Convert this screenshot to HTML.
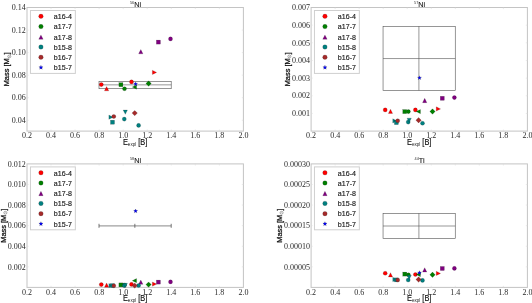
<!DOCTYPE html><html><head><meta charset="utf-8"><style>html,body{margin:0;padding:0;background:#fff}svg{display:block}.sf{font-family:"Liberation Serif",serif}.ss{font-family:"Liberation Sans",sans-serif}</style></head><body><svg width="532" height="303" viewBox="0 0 532 303">
<defs><filter id="bl" x="0" y="0" width="532" height="303" filterUnits="userSpaceOnUse"><feGaussianBlur stdDeviation="0.35"/></filter></defs>
<rect width="532" height="303" fill="#fff"/>
<g><rect x="27.0" y="7.5" width="216.40" height="123.60" fill="none" stroke="#c4c4c4" stroke-width="1"/>
<path d="M51.04 131.1v-1.6M51.04 7.5v1.6" stroke="#dcdcdc" stroke-width="0.6"/>
<path d="M75.09 131.1v-1.6M75.09 7.5v1.6" stroke="#dcdcdc" stroke-width="0.6"/>
<path d="M99.13 131.1v-1.6M99.13 7.5v1.6" stroke="#dcdcdc" stroke-width="0.6"/>
<path d="M123.18 131.1v-1.6M123.18 7.5v1.6" stroke="#dcdcdc" stroke-width="0.6"/>
<path d="M147.22 131.1v-1.6M147.22 7.5v1.6" stroke="#dcdcdc" stroke-width="0.6"/>
<path d="M171.27 131.1v-1.6M171.27 7.5v1.6" stroke="#dcdcdc" stroke-width="0.6"/>
<path d="M195.31 131.1v-1.6M195.31 7.5v1.6" stroke="#dcdcdc" stroke-width="0.6"/>
<path d="M219.36 131.1v-1.6M219.36 7.5v1.6" stroke="#dcdcdc" stroke-width="0.6"/>
<path d="M27.0 30.05h1.6M243.4 30.05h-1.6" stroke="#dcdcdc" stroke-width="0.6"/>
<path d="M27.0 52.60h1.6M243.4 52.60h-1.6" stroke="#dcdcdc" stroke-width="0.6"/>
<path d="M27.0 75.15h1.6M243.4 75.15h-1.6" stroke="#dcdcdc" stroke-width="0.6"/>
<path d="M27.0 97.70h1.6M243.4 97.70h-1.6" stroke="#dcdcdc" stroke-width="0.6"/>
<path d="M27.0 120.25h1.6M243.4 120.25h-1.6" stroke="#dcdcdc" stroke-width="0.6"/>
<rect x="30.45" y="10.50" width="44.9" height="62.9" fill="#fff" stroke="#cfcfcf" stroke-width="1"/>
<rect x="99.00" y="81.4" width="72.20" height="7.3" fill="none" stroke="#505050" stroke-width="0.6"/>
<path d="M99.00 84.85H171.20" stroke="#505050" stroke-width="0.6"/>
<rect x="311.1" y="7.5" width="216.30" height="123.60" fill="none" stroke="#c4c4c4" stroke-width="1"/>
<path d="M335.13 131.1v-1.6M335.13 7.5v1.6" stroke="#dcdcdc" stroke-width="0.6"/>
<path d="M359.17 131.1v-1.6M359.17 7.5v1.6" stroke="#dcdcdc" stroke-width="0.6"/>
<path d="M383.20 131.1v-1.6M383.20 7.5v1.6" stroke="#dcdcdc" stroke-width="0.6"/>
<path d="M407.23 131.1v-1.6M407.23 7.5v1.6" stroke="#dcdcdc" stroke-width="0.6"/>
<path d="M431.27 131.1v-1.6M431.27 7.5v1.6" stroke="#dcdcdc" stroke-width="0.6"/>
<path d="M455.30 131.1v-1.6M455.30 7.5v1.6" stroke="#dcdcdc" stroke-width="0.6"/>
<path d="M479.33 131.1v-1.6M479.33 7.5v1.6" stroke="#dcdcdc" stroke-width="0.6"/>
<path d="M503.37 131.1v-1.6M503.37 7.5v1.6" stroke="#dcdcdc" stroke-width="0.6"/>
<path d="M311.1 25.16h1.6M527.4 25.16h-1.6" stroke="#dcdcdc" stroke-width="0.6"/>
<path d="M311.1 42.81h1.6M527.4 42.81h-1.6" stroke="#dcdcdc" stroke-width="0.6"/>
<path d="M311.1 60.47h1.6M527.4 60.47h-1.6" stroke="#dcdcdc" stroke-width="0.6"/>
<path d="M311.1 78.13h1.6M527.4 78.13h-1.6" stroke="#dcdcdc" stroke-width="0.6"/>
<path d="M311.1 95.79h1.6M527.4 95.79h-1.6" stroke="#dcdcdc" stroke-width="0.6"/>
<path d="M311.1 113.44h1.6M527.4 113.44h-1.6" stroke="#dcdcdc" stroke-width="0.6"/>
<rect x="314.45" y="10.50" width="44.9" height="62.9" fill="#fff" stroke="#cfcfcf" stroke-width="1"/>
<rect x="383.05" y="26.3" width="72.20" height="64.1" fill="none" stroke="#505050" stroke-width="0.6"/>
<path d="M383.05 58.55H455.25M418.90 26.3V90.4" stroke="#505050" stroke-width="0.6"/>
<rect x="27.0" y="163.9" width="216.40" height="123.50" fill="none" stroke="#c4c4c4" stroke-width="1"/>
<path d="M51.04 287.4v-1.6M51.04 163.9v1.6" stroke="#dcdcdc" stroke-width="0.6"/>
<path d="M75.09 287.4v-1.6M75.09 163.9v1.6" stroke="#dcdcdc" stroke-width="0.6"/>
<path d="M99.13 287.4v-1.6M99.13 163.9v1.6" stroke="#dcdcdc" stroke-width="0.6"/>
<path d="M123.18 287.4v-1.6M123.18 163.9v1.6" stroke="#dcdcdc" stroke-width="0.6"/>
<path d="M147.22 287.4v-1.6M147.22 163.9v1.6" stroke="#dcdcdc" stroke-width="0.6"/>
<path d="M171.27 287.4v-1.6M171.27 163.9v1.6" stroke="#dcdcdc" stroke-width="0.6"/>
<path d="M195.31 287.4v-1.6M195.31 163.9v1.6" stroke="#dcdcdc" stroke-width="0.6"/>
<path d="M219.36 287.4v-1.6M219.36 163.9v1.6" stroke="#dcdcdc" stroke-width="0.6"/>
<path d="M27.0 184.48h1.6M243.4 184.48h-1.6" stroke="#dcdcdc" stroke-width="0.6"/>
<path d="M27.0 205.07h1.6M243.4 205.07h-1.6" stroke="#dcdcdc" stroke-width="0.6"/>
<path d="M27.0 225.65h1.6M243.4 225.65h-1.6" stroke="#dcdcdc" stroke-width="0.6"/>
<path d="M27.0 246.23h1.6M243.4 246.23h-1.6" stroke="#dcdcdc" stroke-width="0.6"/>
<path d="M27.0 266.82h1.6M243.4 266.82h-1.6" stroke="#dcdcdc" stroke-width="0.6"/>
<rect x="30.45" y="166.90" width="44.9" height="62.9" fill="#fff" stroke="#cfcfcf" stroke-width="1"/>
<path d="M99.00 225.8H171.20" stroke="#a0a0a0" stroke-width="1.3"/>
<path d="M99.00 223.8v4M171.20 223.8v4M134.85 223.8v4" stroke="#555" stroke-width="0.8"/>
<rect x="311.1" y="163.9" width="216.30" height="123.50" fill="none" stroke="#c4c4c4" stroke-width="1"/>
<path d="M335.13 287.4v-1.6M335.13 163.9v1.6" stroke="#dcdcdc" stroke-width="0.6"/>
<path d="M359.17 287.4v-1.6M359.17 163.9v1.6" stroke="#dcdcdc" stroke-width="0.6"/>
<path d="M383.20 287.4v-1.6M383.20 163.9v1.6" stroke="#dcdcdc" stroke-width="0.6"/>
<path d="M407.23 287.4v-1.6M407.23 163.9v1.6" stroke="#dcdcdc" stroke-width="0.6"/>
<path d="M431.27 287.4v-1.6M431.27 163.9v1.6" stroke="#dcdcdc" stroke-width="0.6"/>
<path d="M455.30 287.4v-1.6M455.30 163.9v1.6" stroke="#dcdcdc" stroke-width="0.6"/>
<path d="M479.33 287.4v-1.6M479.33 163.9v1.6" stroke="#dcdcdc" stroke-width="0.6"/>
<path d="M503.37 287.4v-1.6M503.37 163.9v1.6" stroke="#dcdcdc" stroke-width="0.6"/>
<path d="M311.1 184.48h1.6M527.4 184.48h-1.6" stroke="#dcdcdc" stroke-width="0.6"/>
<path d="M311.1 205.07h1.6M527.4 205.07h-1.6" stroke="#dcdcdc" stroke-width="0.6"/>
<path d="M311.1 225.65h1.6M527.4 225.65h-1.6" stroke="#dcdcdc" stroke-width="0.6"/>
<path d="M311.1 246.23h1.6M527.4 246.23h-1.6" stroke="#dcdcdc" stroke-width="0.6"/>
<path d="M311.1 266.82h1.6M527.4 266.82h-1.6" stroke="#dcdcdc" stroke-width="0.6"/>
<rect x="314.45" y="166.90" width="44.9" height="62.9" fill="#fff" stroke="#cfcfcf" stroke-width="1"/>
<rect x="383.05" y="213.4" width="72.20" height="25.2" fill="none" stroke="#505050" stroke-width="0.6"/>
<path d="M383.05 226.0H455.25M418.90 213.4V238.6" stroke="#505050" stroke-width="0.6"/></g>
<g filter="url(#bl)"><text x="27.00" y="138.40" class="sf" font-size="8" text-anchor="middle" fill="#2a2a2a">0.2</text>
<text x="51.04" y="138.40" class="sf" font-size="8" text-anchor="middle" fill="#2a2a2a">0.4</text>
<text x="75.09" y="138.40" class="sf" font-size="8" text-anchor="middle" fill="#2a2a2a">0.6</text>
<text x="99.13" y="138.40" class="sf" font-size="8" text-anchor="middle" fill="#2a2a2a">0.8</text>
<text x="123.18" y="138.40" class="sf" font-size="8" text-anchor="middle" fill="#2a2a2a">1.0</text>
<text x="147.22" y="138.40" class="sf" font-size="8" text-anchor="middle" fill="#2a2a2a">1.2</text>
<text x="171.27" y="138.40" class="sf" font-size="8" text-anchor="middle" fill="#2a2a2a">1.4</text>
<text x="195.31" y="138.40" class="sf" font-size="8" text-anchor="middle" fill="#2a2a2a">1.6</text>
<text x="219.36" y="138.40" class="sf" font-size="8" text-anchor="middle" fill="#2a2a2a">1.8</text>
<text x="243.40" y="138.40" class="sf" font-size="8" text-anchor="middle" fill="#2a2a2a">2.0</text>
<text x="25.80" y="10.20" class="sf" font-size="8" text-anchor="end" fill="#2a2a2a">0.14</text>
<text x="25.80" y="32.75" class="sf" font-size="8" text-anchor="end" fill="#2a2a2a">0.12</text>
<text x="25.80" y="55.30" class="sf" font-size="8" text-anchor="end" fill="#2a2a2a">0.10</text>
<text x="25.80" y="77.85" class="sf" font-size="8" text-anchor="end" fill="#2a2a2a">0.08</text>
<text x="25.80" y="100.40" class="sf" font-size="8" text-anchor="end" fill="#2a2a2a">0.06</text>
<text x="25.80" y="122.95" class="sf" font-size="8" text-anchor="end" fill="#2a2a2a">0.04</text>
<text x="135.50" y="6.50" class="ss" font-size="7.2" text-anchor="middle" fill="#111"><tspan font-size="3.8" dy="-2.9" fill="#333">56</tspan><tspan dy="2.9" stroke="#111" stroke-width="0.1">Ni</tspan></text>
<text transform="translate(122.90 144.50) scale(1,1.1)" class="ss" font-size="7.4" fill="#111"><tspan stroke="#111" stroke-width="0.15">E</tspan><tspan font-size="4.6" dy="1.2" fill="#222">expl</tspan><tspan dy="-1.2" stroke="#111" stroke-width="0.15"> [B]</tspan></text>
<g transform="translate(9.40 69.30) rotate(-90) scale(1,1.08)"><text x="-17.0" y="0" class="ss" font-size="7.4" fill="#111" stroke="#111" stroke-width="0.25">Mass [M</text><circle cx="12.9" cy="-0.1" r="1.4" fill="none" stroke="#333" stroke-width="0.4"/><circle cx="12.9" cy="-0.1" r="0.3" fill="#333"/><text x="14.9" y="0" class="ss" font-size="7.4" fill="#111" stroke="#111" stroke-width="0.25">]</text></g>
<circle cx="40.95" cy="16.35" r="2.25" fill="#ff0000" stroke="#000" stroke-opacity="0.45" stroke-width="0.35"/>
<text transform="translate(53.85 19.10) scale(1,1.1)" class="ss" font-size="7.1" fill="#1a1a1a" stroke="#1a1a1a" stroke-width="0.15">a16-4</text>
<circle cx="40.95" cy="26.57" r="2.25" fill="#008000" stroke="#000" stroke-opacity="0.45" stroke-width="0.35"/>
<text transform="translate(53.85 29.32) scale(1,1.1)" class="ss" font-size="7.1" fill="#1a1a1a" stroke="#1a1a1a" stroke-width="0.15">a17-7</text>
<path d="M40.95 34.90L43.14 39.28L38.76 39.28Z" fill="#800080" stroke="#000" stroke-opacity="0.45" stroke-width="0.35"/>
<text transform="translate(53.85 39.54) scale(1,1.1)" class="ss" font-size="7.1" fill="#1a1a1a" stroke="#1a1a1a" stroke-width="0.15">a17-8</text>
<circle cx="40.95" cy="47.01" r="2.25" fill="#008080" stroke="#000" stroke-opacity="0.45" stroke-width="0.35"/>
<text transform="translate(53.85 49.76) scale(1,1.1)" class="ss" font-size="7.1" fill="#1a1a1a" stroke="#1a1a1a" stroke-width="0.15">b15-8</text>
<circle cx="40.95" cy="57.23" r="2.25" fill="#a52a2a" stroke="#000" stroke-opacity="0.45" stroke-width="0.35"/>
<text transform="translate(53.85 59.98) scale(1,1.1)" class="ss" font-size="7.1" fill="#1a1a1a" stroke="#1a1a1a" stroke-width="0.15">b16-7</text>
<path d="M40.95 65.25L41.51 66.68L43.05 66.77L41.85 67.74L42.25 69.23L40.95 68.40L39.65 69.23L40.05 67.74L38.85 66.77L40.39 66.68Z" fill="#0000ff" stroke="#000" stroke-opacity="0.5" stroke-width="0.35"/>
<text transform="translate(53.85 70.20) scale(1,1.1)" class="ss" font-size="7.1" fill="#1a1a1a" stroke="#1a1a1a" stroke-width="0.15">b15-7</text>
<circle cx="101.30" cy="84.60" r="2.05" fill="#ff0000" stroke="#000" stroke-opacity="0.45" stroke-width="0.35"/>
<path d="M106.60 86.55L108.75 90.85L104.45 90.85Z" fill="#ff0000" stroke="#000" stroke-opacity="0.45" stroke-width="0.35"/>
<circle cx="131.50" cy="81.90" r="2.05" fill="#ff0000" stroke="#000" stroke-opacity="0.45" stroke-width="0.35"/>
<path d="M156.65 72.40L152.35 70.25L152.35 74.55Z" fill="#ff0000" stroke="#000" stroke-opacity="0.45" stroke-width="0.35"/>
<rect x="118.90" y="82.70" width="4.00" height="4.00" fill="#008000" stroke="#000" stroke-opacity="0.45" stroke-width="0.35"/>
<circle cx="124.50" cy="88.70" r="2.05" fill="#008000" stroke="#000" stroke-opacity="0.45" stroke-width="0.35"/>
<path d="M132.25 87.10L136.55 84.95L136.55 89.25Z" fill="#008000" stroke="#000" stroke-opacity="0.45" stroke-width="0.35"/>
<path d="M148.60 80.80L151.30 83.50L148.60 86.20L145.90 83.50Z" fill="#008000" stroke="#000" stroke-opacity="0.45" stroke-width="0.35"/>
<path d="M140.80 49.55L142.95 53.85L138.65 53.85Z" fill="#800080" stroke="#000" stroke-opacity="0.45" stroke-width="0.35"/>
<rect x="156.40" y="40.10" width="4.00" height="4.00" fill="#800080" stroke="#000" stroke-opacity="0.45" stroke-width="0.35"/>
<circle cx="170.50" cy="38.90" r="2.05" fill="#800080" stroke="#000" stroke-opacity="0.45" stroke-width="0.35"/>
<path d="M113.15 117.20L108.85 115.05L108.85 119.35Z" fill="#008080" stroke="#000" stroke-opacity="0.45" stroke-width="0.35"/>
<rect x="110.50" y="120.20" width="4.00" height="4.00" fill="#008080" stroke="#000" stroke-opacity="0.45" stroke-width="0.35"/>
<circle cx="124.30" cy="119.10" r="2.05" fill="#008080" stroke="#000" stroke-opacity="0.45" stroke-width="0.35"/>
<path d="M125.30 114.35L127.45 110.05L123.15 110.05Z" fill="#008080" stroke="#000" stroke-opacity="0.45" stroke-width="0.35"/>
<circle cx="138.60" cy="125.40" r="2.05" fill="#008080" stroke="#000" stroke-opacity="0.45" stroke-width="0.35"/>
<circle cx="113.80" cy="116.50" r="2.05" fill="#a52a2a" stroke="#000" stroke-opacity="0.45" stroke-width="0.35"/>
<path d="M134.70 110.40L137.40 113.10L134.70 115.80L132.00 113.10Z" fill="#a52a2a" stroke="#000" stroke-opacity="0.45" stroke-width="0.35"/>
<path d="M135.60 81.90L136.13 83.27L137.60 83.35L136.46 84.28L136.83 85.70L135.60 84.90L134.37 85.70L134.74 84.28L133.60 83.35L135.07 83.27Z" fill="#0000ff" stroke="#000" stroke-opacity="0.5" stroke-width="0.35"/>
<text x="311.10" y="138.40" class="sf" font-size="8" text-anchor="middle" fill="#2a2a2a">0.2</text>
<text x="335.13" y="138.40" class="sf" font-size="8" text-anchor="middle" fill="#2a2a2a">0.4</text>
<text x="359.17" y="138.40" class="sf" font-size="8" text-anchor="middle" fill="#2a2a2a">0.6</text>
<text x="383.20" y="138.40" class="sf" font-size="8" text-anchor="middle" fill="#2a2a2a">0.8</text>
<text x="407.23" y="138.40" class="sf" font-size="8" text-anchor="middle" fill="#2a2a2a">1.0</text>
<text x="431.27" y="138.40" class="sf" font-size="8" text-anchor="middle" fill="#2a2a2a">1.2</text>
<text x="455.30" y="138.40" class="sf" font-size="8" text-anchor="middle" fill="#2a2a2a">1.4</text>
<text x="479.33" y="138.40" class="sf" font-size="8" text-anchor="middle" fill="#2a2a2a">1.6</text>
<text x="503.37" y="138.40" class="sf" font-size="8" text-anchor="middle" fill="#2a2a2a">1.8</text>
<text x="527.40" y="138.40" class="sf" font-size="8" text-anchor="middle" fill="#2a2a2a">2.0</text>
<text x="309.90" y="10.20" class="sf" font-size="8" text-anchor="end" fill="#2a2a2a">0.007</text>
<text x="309.90" y="27.86" class="sf" font-size="8" text-anchor="end" fill="#2a2a2a">0.006</text>
<text x="309.90" y="45.51" class="sf" font-size="8" text-anchor="end" fill="#2a2a2a">0.005</text>
<text x="309.90" y="63.17" class="sf" font-size="8" text-anchor="end" fill="#2a2a2a">0.004</text>
<text x="309.90" y="80.83" class="sf" font-size="8" text-anchor="end" fill="#2a2a2a">0.003</text>
<text x="309.90" y="98.49" class="sf" font-size="8" text-anchor="end" fill="#2a2a2a">0.002</text>
<text x="309.90" y="116.14" class="sf" font-size="8" text-anchor="end" fill="#2a2a2a">0.001</text>
<text x="419.55" y="6.50" class="ss" font-size="7.2" text-anchor="middle" fill="#111"><tspan font-size="3.8" dy="-2.9" fill="#333">57</tspan><tspan dy="2.9" stroke="#111" stroke-width="0.1">Ni</tspan></text>
<text transform="translate(406.95 144.50) scale(1,1.1)" class="ss" font-size="7.4" fill="#111"><tspan stroke="#111" stroke-width="0.15">E</tspan><tspan font-size="4.6" dy="1.2" fill="#222">expl</tspan><tspan dy="-1.2" stroke="#111" stroke-width="0.15"> [B]</tspan></text>
<g transform="translate(289.50 69.30) rotate(-90) scale(1,1.08)"><text x="-17.0" y="0" class="ss" font-size="7.4" fill="#111" stroke="#111" stroke-width="0.25">Mass [M</text><circle cx="12.9" cy="-0.1" r="1.4" fill="none" stroke="#333" stroke-width="0.4"/><circle cx="12.9" cy="-0.1" r="0.3" fill="#333"/><text x="14.9" y="0" class="ss" font-size="7.4" fill="#111" stroke="#111" stroke-width="0.25">]</text></g>
<circle cx="324.95" cy="16.35" r="2.25" fill="#ff0000" stroke="#000" stroke-opacity="0.45" stroke-width="0.35"/>
<text transform="translate(337.85 19.10) scale(1,1.1)" class="ss" font-size="7.1" fill="#1a1a1a" stroke="#1a1a1a" stroke-width="0.15">a16-4</text>
<circle cx="324.95" cy="26.57" r="2.25" fill="#008000" stroke="#000" stroke-opacity="0.45" stroke-width="0.35"/>
<text transform="translate(337.85 29.32) scale(1,1.1)" class="ss" font-size="7.1" fill="#1a1a1a" stroke="#1a1a1a" stroke-width="0.15">a17-7</text>
<path d="M324.95 34.90L327.14 39.28L322.76 39.28Z" fill="#800080" stroke="#000" stroke-opacity="0.45" stroke-width="0.35"/>
<text transform="translate(337.85 39.54) scale(1,1.1)" class="ss" font-size="7.1" fill="#1a1a1a" stroke="#1a1a1a" stroke-width="0.15">a17-8</text>
<circle cx="324.95" cy="47.01" r="2.25" fill="#008080" stroke="#000" stroke-opacity="0.45" stroke-width="0.35"/>
<text transform="translate(337.85 49.76) scale(1,1.1)" class="ss" font-size="7.1" fill="#1a1a1a" stroke="#1a1a1a" stroke-width="0.15">b15-8</text>
<circle cx="324.95" cy="57.23" r="2.25" fill="#a52a2a" stroke="#000" stroke-opacity="0.45" stroke-width="0.35"/>
<text transform="translate(337.85 59.98) scale(1,1.1)" class="ss" font-size="7.1" fill="#1a1a1a" stroke="#1a1a1a" stroke-width="0.15">b16-7</text>
<path d="M324.95 65.25L325.51 66.68L327.05 66.77L325.85 67.74L326.25 69.23L324.95 68.40L323.65 69.23L324.05 67.74L322.85 66.77L324.39 66.68Z" fill="#0000ff" stroke="#000" stroke-opacity="0.5" stroke-width="0.35"/>
<text transform="translate(337.85 70.20) scale(1,1.1)" class="ss" font-size="7.1" fill="#1a1a1a" stroke="#1a1a1a" stroke-width="0.15">b15-7</text>
<circle cx="385.20" cy="109.90" r="2.05" fill="#ff0000" stroke="#000" stroke-opacity="0.45" stroke-width="0.35"/>
<path d="M390.50 109.15L392.65 113.45L388.35 113.45Z" fill="#ff0000" stroke="#000" stroke-opacity="0.45" stroke-width="0.35"/>
<circle cx="415.40" cy="109.90" r="2.05" fill="#ff0000" stroke="#000" stroke-opacity="0.45" stroke-width="0.35"/>
<path d="M440.55 108.90L436.25 106.75L436.25 111.05Z" fill="#ff0000" stroke="#000" stroke-opacity="0.45" stroke-width="0.35"/>
<rect x="402.80" y="109.60" width="4.00" height="4.00" fill="#008000" stroke="#000" stroke-opacity="0.45" stroke-width="0.35"/>
<circle cx="408.40" cy="111.60" r="2.05" fill="#008000" stroke="#000" stroke-opacity="0.45" stroke-width="0.35"/>
<path d="M416.15 111.60L420.45 109.45L420.45 113.75Z" fill="#008000" stroke="#000" stroke-opacity="0.45" stroke-width="0.35"/>
<path d="M432.50 108.80L435.20 111.50L432.50 114.20L429.80 111.50Z" fill="#008000" stroke="#000" stroke-opacity="0.45" stroke-width="0.35"/>
<path d="M424.70 98.35L426.85 102.65L422.55 102.65Z" fill="#800080" stroke="#000" stroke-opacity="0.45" stroke-width="0.35"/>
<rect x="440.30" y="96.30" width="4.00" height="4.00" fill="#800080" stroke="#000" stroke-opacity="0.45" stroke-width="0.35"/>
<circle cx="454.40" cy="97.60" r="2.05" fill="#800080" stroke="#000" stroke-opacity="0.45" stroke-width="0.35"/>
<path d="M397.05 120.90L392.75 118.75L392.75 123.05Z" fill="#008080" stroke="#000" stroke-opacity="0.45" stroke-width="0.35"/>
<rect x="394.40" y="120.60" width="4.00" height="4.00" fill="#008080" stroke="#000" stroke-opacity="0.45" stroke-width="0.35"/>
<circle cx="408.20" cy="122.10" r="2.05" fill="#008080" stroke="#000" stroke-opacity="0.45" stroke-width="0.35"/>
<path d="M409.20 122.45L411.35 118.15L407.05 118.15Z" fill="#008080" stroke="#000" stroke-opacity="0.45" stroke-width="0.35"/>
<circle cx="422.50" cy="123.30" r="2.05" fill="#008080" stroke="#000" stroke-opacity="0.45" stroke-width="0.35"/>
<circle cx="397.70" cy="120.70" r="2.05" fill="#a52a2a" stroke="#000" stroke-opacity="0.45" stroke-width="0.35"/>
<path d="M418.60 117.50L421.30 120.20L418.60 122.90L415.90 120.20Z" fill="#a52a2a" stroke="#000" stroke-opacity="0.45" stroke-width="0.35"/>
<path d="M419.50 75.80L420.03 77.17L421.50 77.25L420.36 78.18L420.73 79.60L419.50 78.80L418.27 79.60L418.64 78.18L417.50 77.25L418.97 77.17Z" fill="#0000ff" stroke="#000" stroke-opacity="0.5" stroke-width="0.35"/>
<text x="27.00" y="294.70" class="sf" font-size="8" text-anchor="middle" fill="#2a2a2a">0.2</text>
<text x="51.04" y="294.70" class="sf" font-size="8" text-anchor="middle" fill="#2a2a2a">0.4</text>
<text x="75.09" y="294.70" class="sf" font-size="8" text-anchor="middle" fill="#2a2a2a">0.6</text>
<text x="99.13" y="294.70" class="sf" font-size="8" text-anchor="middle" fill="#2a2a2a">0.8</text>
<text x="123.18" y="294.70" class="sf" font-size="8" text-anchor="middle" fill="#2a2a2a">1.0</text>
<text x="147.22" y="294.70" class="sf" font-size="8" text-anchor="middle" fill="#2a2a2a">1.2</text>
<text x="171.27" y="294.70" class="sf" font-size="8" text-anchor="middle" fill="#2a2a2a">1.4</text>
<text x="195.31" y="294.70" class="sf" font-size="8" text-anchor="middle" fill="#2a2a2a">1.6</text>
<text x="219.36" y="294.70" class="sf" font-size="8" text-anchor="middle" fill="#2a2a2a">1.8</text>
<text x="243.40" y="294.70" class="sf" font-size="8" text-anchor="middle" fill="#2a2a2a">2.0</text>
<text x="25.80" y="166.60" class="sf" font-size="8" text-anchor="end" fill="#2a2a2a">0.012</text>
<text x="25.80" y="187.18" class="sf" font-size="8" text-anchor="end" fill="#2a2a2a">0.010</text>
<text x="25.80" y="207.77" class="sf" font-size="8" text-anchor="end" fill="#2a2a2a">0.008</text>
<text x="25.80" y="228.35" class="sf" font-size="8" text-anchor="end" fill="#2a2a2a">0.006</text>
<text x="25.80" y="248.93" class="sf" font-size="8" text-anchor="end" fill="#2a2a2a">0.004</text>
<text x="25.80" y="269.52" class="sf" font-size="8" text-anchor="end" fill="#2a2a2a">0.002</text>
<text x="135.50" y="162.90" class="ss" font-size="7.2" text-anchor="middle" fill="#111"><tspan font-size="3.8" dy="-2.9" fill="#333">58</tspan><tspan dy="2.9" stroke="#111" stroke-width="0.1">Ni</tspan></text>
<text transform="translate(122.90 300.80) scale(1,1.1)" class="ss" font-size="7.4" fill="#111"><tspan stroke="#111" stroke-width="0.15">E</tspan><tspan font-size="4.6" dy="1.2" fill="#222">expl</tspan><tspan dy="-1.2" stroke="#111" stroke-width="0.15"> [B]</tspan></text>
<g transform="translate(5.50 225.65) rotate(-90) scale(1,1.08)"><text x="-17.0" y="0" class="ss" font-size="7.4" fill="#111" stroke="#111" stroke-width="0.25">Mass [M</text><circle cx="12.9" cy="-0.1" r="1.4" fill="none" stroke="#333" stroke-width="0.4"/><circle cx="12.9" cy="-0.1" r="0.3" fill="#333"/><text x="14.9" y="0" class="ss" font-size="7.4" fill="#111" stroke="#111" stroke-width="0.25">]</text></g>
<circle cx="40.95" cy="172.75" r="2.25" fill="#ff0000" stroke="#000" stroke-opacity="0.45" stroke-width="0.35"/>
<text transform="translate(53.85 175.50) scale(1,1.1)" class="ss" font-size="7.1" fill="#1a1a1a" stroke="#1a1a1a" stroke-width="0.15">a16-4</text>
<circle cx="40.95" cy="182.97" r="2.25" fill="#008000" stroke="#000" stroke-opacity="0.45" stroke-width="0.35"/>
<text transform="translate(53.85 185.72) scale(1,1.1)" class="ss" font-size="7.1" fill="#1a1a1a" stroke="#1a1a1a" stroke-width="0.15">a17-7</text>
<path d="M40.95 191.30L43.14 195.68L38.76 195.68Z" fill="#800080" stroke="#000" stroke-opacity="0.45" stroke-width="0.35"/>
<text transform="translate(53.85 195.94) scale(1,1.1)" class="ss" font-size="7.1" fill="#1a1a1a" stroke="#1a1a1a" stroke-width="0.15">a17-8</text>
<circle cx="40.95" cy="203.41" r="2.25" fill="#008080" stroke="#000" stroke-opacity="0.45" stroke-width="0.35"/>
<text transform="translate(53.85 206.16) scale(1,1.1)" class="ss" font-size="7.1" fill="#1a1a1a" stroke="#1a1a1a" stroke-width="0.15">b15-8</text>
<circle cx="40.95" cy="213.63" r="2.25" fill="#a52a2a" stroke="#000" stroke-opacity="0.45" stroke-width="0.35"/>
<text transform="translate(53.85 216.38) scale(1,1.1)" class="ss" font-size="7.1" fill="#1a1a1a" stroke="#1a1a1a" stroke-width="0.15">b16-7</text>
<path d="M40.95 221.64L41.51 223.08L43.05 223.17L41.85 224.14L42.25 225.63L40.95 224.80L39.65 225.63L40.05 224.14L38.85 223.17L40.39 223.08Z" fill="#0000ff" stroke="#000" stroke-opacity="0.5" stroke-width="0.35"/>
<text transform="translate(53.85 226.60) scale(1,1.1)" class="ss" font-size="7.1" fill="#1a1a1a" stroke="#1a1a1a" stroke-width="0.15">b15-7</text>
<circle cx="101.30" cy="284.60" r="2.05" fill="#ff0000" stroke="#000" stroke-opacity="0.45" stroke-width="0.35"/>
<path d="M106.60 282.95L108.75 287.25L104.45 287.25Z" fill="#ff0000" stroke="#000" stroke-opacity="0.45" stroke-width="0.35"/>
<circle cx="131.50" cy="284.40" r="2.05" fill="#ff0000" stroke="#000" stroke-opacity="0.45" stroke-width="0.35"/>
<path d="M156.65 284.10L152.35 281.95L152.35 286.25Z" fill="#ff0000" stroke="#000" stroke-opacity="0.45" stroke-width="0.35"/>
<rect x="118.90" y="282.90" width="4.00" height="4.00" fill="#008000" stroke="#000" stroke-opacity="0.45" stroke-width="0.35"/>
<circle cx="124.50" cy="285.00" r="2.05" fill="#008000" stroke="#000" stroke-opacity="0.45" stroke-width="0.35"/>
<path d="M132.25 280.70L136.55 278.55L136.55 282.85Z" fill="#008000" stroke="#000" stroke-opacity="0.45" stroke-width="0.35"/>
<path d="M148.60 281.90L151.30 284.60L148.60 287.30L145.90 284.60Z" fill="#008000" stroke="#000" stroke-opacity="0.45" stroke-width="0.35"/>
<path d="M140.80 280.05L142.95 284.35L138.65 284.35Z" fill="#800080" stroke="#000" stroke-opacity="0.45" stroke-width="0.35"/>
<rect x="156.40" y="280.10" width="4.00" height="4.00" fill="#800080" stroke="#000" stroke-opacity="0.45" stroke-width="0.35"/>
<circle cx="170.50" cy="281.90" r="2.05" fill="#800080" stroke="#000" stroke-opacity="0.45" stroke-width="0.35"/>
<path d="M113.15 285.60L108.85 283.45L108.85 287.75Z" fill="#008080" stroke="#000" stroke-opacity="0.45" stroke-width="0.35"/>
<rect x="110.50" y="283.60" width="4.00" height="4.00" fill="#008080" stroke="#000" stroke-opacity="0.45" stroke-width="0.35"/>
<circle cx="124.30" cy="285.60" r="2.05" fill="#008080" stroke="#000" stroke-opacity="0.45" stroke-width="0.35"/>
<path d="M125.30 287.55L127.45 283.25L123.15 283.25Z" fill="#008080" stroke="#000" stroke-opacity="0.45" stroke-width="0.35"/>
<circle cx="138.60" cy="285.50" r="2.05" fill="#008080" stroke="#000" stroke-opacity="0.45" stroke-width="0.35"/>
<circle cx="113.80" cy="285.80" r="2.05" fill="#a52a2a" stroke="#000" stroke-opacity="0.45" stroke-width="0.35"/>
<path d="M134.70 282.90L137.40 285.60L134.70 288.30L132.00 285.60Z" fill="#a52a2a" stroke="#000" stroke-opacity="0.45" stroke-width="0.35"/>
<path d="M135.60 209.00L136.13 210.37L137.60 210.45L136.46 211.38L136.83 212.80L135.60 212.00L134.37 212.80L134.74 211.38L133.60 210.45L135.07 210.37Z" fill="#0000ff" stroke="#000" stroke-opacity="0.5" stroke-width="0.35"/>
<text x="311.10" y="294.70" class="sf" font-size="8" text-anchor="middle" fill="#2a2a2a">0.2</text>
<text x="335.13" y="294.70" class="sf" font-size="8" text-anchor="middle" fill="#2a2a2a">0.4</text>
<text x="359.17" y="294.70" class="sf" font-size="8" text-anchor="middle" fill="#2a2a2a">0.6</text>
<text x="383.20" y="294.70" class="sf" font-size="8" text-anchor="middle" fill="#2a2a2a">0.8</text>
<text x="407.23" y="294.70" class="sf" font-size="8" text-anchor="middle" fill="#2a2a2a">1.0</text>
<text x="431.27" y="294.70" class="sf" font-size="8" text-anchor="middle" fill="#2a2a2a">1.2</text>
<text x="455.30" y="294.70" class="sf" font-size="8" text-anchor="middle" fill="#2a2a2a">1.4</text>
<text x="479.33" y="294.70" class="sf" font-size="8" text-anchor="middle" fill="#2a2a2a">1.6</text>
<text x="503.37" y="294.70" class="sf" font-size="8" text-anchor="middle" fill="#2a2a2a">1.8</text>
<text x="527.40" y="294.70" class="sf" font-size="8" text-anchor="middle" fill="#2a2a2a">2.0</text>
<text x="309.90" y="166.60" class="sf" font-size="8" text-anchor="end" fill="#2a2a2a">0.00030</text>
<text x="309.90" y="187.18" class="sf" font-size="8" text-anchor="end" fill="#2a2a2a">0.00025</text>
<text x="309.90" y="207.77" class="sf" font-size="8" text-anchor="end" fill="#2a2a2a">0.00020</text>
<text x="309.90" y="228.35" class="sf" font-size="8" text-anchor="end" fill="#2a2a2a">0.00015</text>
<text x="309.90" y="248.93" class="sf" font-size="8" text-anchor="end" fill="#2a2a2a">0.00010</text>
<text x="309.90" y="269.52" class="sf" font-size="8" text-anchor="end" fill="#2a2a2a">0.00005</text>
<text x="419.55" y="162.90" class="ss" font-size="7.2" text-anchor="middle" fill="#111"><tspan font-size="3.8" dy="-2.9" fill="#333">44</tspan><tspan dy="2.9" stroke="#111" stroke-width="0.1">Ti</tspan></text>
<text transform="translate(406.95 300.80) scale(1,1.1)" class="ss" font-size="7.4" fill="#111"><tspan stroke="#111" stroke-width="0.15">E</tspan><tspan font-size="4.6" dy="1.2" fill="#222">expl</tspan><tspan dy="-1.2" stroke="#111" stroke-width="0.15"> [B]</tspan></text>
<g transform="translate(281.70 225.65) rotate(-90) scale(1,1.08)"><text x="-17.0" y="0" class="ss" font-size="7.4" fill="#111" stroke="#111" stroke-width="0.25">Mass [M</text><circle cx="12.9" cy="-0.1" r="1.4" fill="none" stroke="#333" stroke-width="0.4"/><circle cx="12.9" cy="-0.1" r="0.3" fill="#333"/><text x="14.9" y="0" class="ss" font-size="7.4" fill="#111" stroke="#111" stroke-width="0.25">]</text></g>
<circle cx="324.95" cy="172.75" r="2.25" fill="#ff0000" stroke="#000" stroke-opacity="0.45" stroke-width="0.35"/>
<text transform="translate(337.85 175.50) scale(1,1.1)" class="ss" font-size="7.1" fill="#1a1a1a" stroke="#1a1a1a" stroke-width="0.15">a16-4</text>
<circle cx="324.95" cy="182.97" r="2.25" fill="#008000" stroke="#000" stroke-opacity="0.45" stroke-width="0.35"/>
<text transform="translate(337.85 185.72) scale(1,1.1)" class="ss" font-size="7.1" fill="#1a1a1a" stroke="#1a1a1a" stroke-width="0.15">a17-7</text>
<path d="M324.95 191.30L327.14 195.68L322.76 195.68Z" fill="#800080" stroke="#000" stroke-opacity="0.45" stroke-width="0.35"/>
<text transform="translate(337.85 195.94) scale(1,1.1)" class="ss" font-size="7.1" fill="#1a1a1a" stroke="#1a1a1a" stroke-width="0.15">a17-8</text>
<circle cx="324.95" cy="203.41" r="2.25" fill="#008080" stroke="#000" stroke-opacity="0.45" stroke-width="0.35"/>
<text transform="translate(337.85 206.16) scale(1,1.1)" class="ss" font-size="7.1" fill="#1a1a1a" stroke="#1a1a1a" stroke-width="0.15">b15-8</text>
<circle cx="324.95" cy="213.63" r="2.25" fill="#a52a2a" stroke="#000" stroke-opacity="0.45" stroke-width="0.35"/>
<text transform="translate(337.85 216.38) scale(1,1.1)" class="ss" font-size="7.1" fill="#1a1a1a" stroke="#1a1a1a" stroke-width="0.15">b16-7</text>
<path d="M324.95 221.64L325.51 223.08L327.05 223.17L325.85 224.14L326.25 225.63L324.95 224.80L323.65 225.63L324.05 224.14L322.85 223.17L324.39 223.08Z" fill="#0000ff" stroke="#000" stroke-opacity="0.5" stroke-width="0.35"/>
<text transform="translate(337.85 226.60) scale(1,1.1)" class="ss" font-size="7.1" fill="#1a1a1a" stroke="#1a1a1a" stroke-width="0.15">b15-7</text>
<circle cx="385.20" cy="273.30" r="2.05" fill="#ff0000" stroke="#000" stroke-opacity="0.45" stroke-width="0.35"/>
<path d="M390.50 272.65L392.65 276.95L388.35 276.95Z" fill="#ff0000" stroke="#000" stroke-opacity="0.45" stroke-width="0.35"/>
<circle cx="415.40" cy="274.50" r="2.05" fill="#ff0000" stroke="#000" stroke-opacity="0.45" stroke-width="0.35"/>
<path d="M440.55 273.40L436.25 271.25L436.25 275.55Z" fill="#ff0000" stroke="#000" stroke-opacity="0.45" stroke-width="0.35"/>
<rect x="402.80" y="272.10" width="4.00" height="4.00" fill="#008000" stroke="#000" stroke-opacity="0.45" stroke-width="0.35"/>
<circle cx="408.40" cy="274.80" r="2.05" fill="#008000" stroke="#000" stroke-opacity="0.45" stroke-width="0.35"/>
<path d="M416.15 274.50L420.45 272.35L420.45 276.65Z" fill="#008000" stroke="#000" stroke-opacity="0.45" stroke-width="0.35"/>
<path d="M432.50 272.10L435.20 274.80L432.50 277.50L429.80 274.80Z" fill="#008000" stroke="#000" stroke-opacity="0.45" stroke-width="0.35"/>
<path d="M424.70 267.75L426.85 272.05L422.55 272.05Z" fill="#800080" stroke="#000" stroke-opacity="0.45" stroke-width="0.35"/>
<rect x="440.30" y="266.50" width="4.00" height="4.00" fill="#800080" stroke="#000" stroke-opacity="0.45" stroke-width="0.35"/>
<circle cx="454.40" cy="268.40" r="2.05" fill="#800080" stroke="#000" stroke-opacity="0.45" stroke-width="0.35"/>
<path d="M397.05 279.50L392.75 277.35L392.75 281.65Z" fill="#008080" stroke="#000" stroke-opacity="0.45" stroke-width="0.35"/>
<rect x="394.40" y="277.90" width="4.00" height="4.00" fill="#008080" stroke="#000" stroke-opacity="0.45" stroke-width="0.35"/>
<circle cx="408.20" cy="280.00" r="2.05" fill="#008080" stroke="#000" stroke-opacity="0.45" stroke-width="0.35"/>
<path d="M409.20 279.45L411.35 275.15L407.05 275.15Z" fill="#008080" stroke="#000" stroke-opacity="0.45" stroke-width="0.35"/>
<circle cx="422.50" cy="280.40" r="2.05" fill="#008080" stroke="#000" stroke-opacity="0.45" stroke-width="0.35"/>
<circle cx="397.70" cy="280.00" r="2.05" fill="#a52a2a" stroke="#000" stroke-opacity="0.45" stroke-width="0.35"/>
<path d="M418.60 276.80L421.30 279.50L418.60 282.20L415.90 279.50Z" fill="#a52a2a" stroke="#000" stroke-opacity="0.45" stroke-width="0.35"/>
<path d="M419.50 270.70L420.03 272.07L421.50 272.15L420.36 273.08L420.73 274.50L419.50 273.70L418.27 274.50L418.64 273.08L417.50 272.15L418.97 272.07Z" fill="#0000ff" stroke="#000" stroke-opacity="0.5" stroke-width="0.35"/></g>
</svg></body></html>
